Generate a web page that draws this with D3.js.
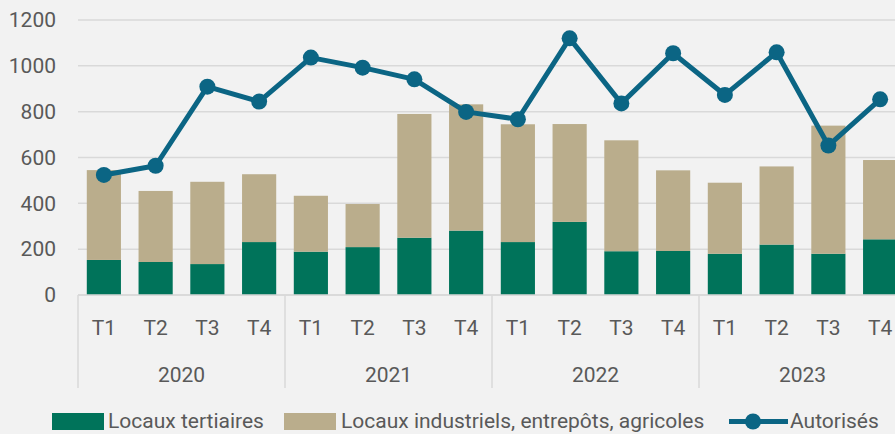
<!DOCTYPE html>
<html>
<head>
<meta charset="utf-8">
<script src="https://cdn.jsdelivr.net/npm/d3@7"></script>
<style>
  html, body { margin: 0; padding: 0; background: #f2f2f2; }
  svg { display: block; font-family: Roboto, "Noto Sans", sans-serif; }
</style>
</head>
<body>
<div id="chart"></div>
<script>
// Data
var years      = ["2020", "2021", "2022", "2023"];
var quarters   = ["T1", "T2", "T3", "T4"];
var tertiaires = [153, 144, 135, 231, 189, 209, 250, 281, 231, 319, 191, 192, 180, 220, 180, 243];
var industriels = [392, 310, 359, 296, 244, 188, 540, 551, 514, 427, 484, 352, 310, 341, 559, 346];
var autorises  = [524, 564, 909, 844, 1036, 992, 941, 799, 767, 1120, 836, 1055, 873, 1059, 652, 854];
var yTicks     = [0, 200, 400, 600, 800, 1000, 1200];

// Colors
var colors = { tertiaires: "#00735a", industriels: "#baad8c", line: "#0b6584", grid: "#d9d9d9", text: "#595959" };

var width = 895, height = 434;
var margin = { left: 78, top: 20, bottom: 295 };

// Build rows
var rows = [];
years.forEach(function(y, yi) {
  quarters.forEach(function(q, qi) {
    var i = yi * 4 + qi;
    rows.push({ id: y + "-" + q, year: y, quarter: q, tertiaires: tertiaires[i], industriels: industriels[i], autorises: autorises[i] });
  });
});

var svg = d3.select("#chart").append("svg").attr("width", width).attr("height", height);
svg.append("rect").attr("width", width).attr("height", height).attr("fill", "#f2f2f2");

// Scales
var x = d3.scaleBand().domain(rows.map(function(d) { return d.id; }))
  .range([margin.left, margin.left + 16 * 51.75]).paddingInner(0.34).paddingOuter(0.17);
var y = d3.scaleLinear().domain([0, 1200]).range([margin.bottom, margin.top]);

// Gridlines
svg.append("g").selectAll("line").data(yTicks).enter().append("line")
  .attr("x1", margin.left).attr("x2", width)
  .attr("y1", function(d) { return y(d); }).attr("y2", function(d) { return y(d); })
  .attr("stroke", colors.grid).attr("stroke-width", 1.5);

// Y axis labels
var yAxis = svg.append("g").attr("transform", "translate(56,0)")
  .call(d3.axisLeft(y).tickValues(yTicks).tickFormat(d3.format("d")).tickSize(0).tickPadding(0));
yAxis.select(".domain").remove();
yAxis.selectAll("text").attr("font-size", 21).attr("fill", colors.text).attr("font-family", "Roboto");

// Stacked bars
var stack = d3.stack().keys(["tertiaires", "industriels"]);
var series = stack(rows);
svg.append("g").selectAll("g").data(series).enter().append("g")
  .attr("fill", function(s) { return colors[s.key]; })
  .selectAll("rect").data(function(s) { return s; }).enter().append("rect")
  .attr("x", function(d) { return x(d.data.id); })
  .attr("width", x.bandwidth())
  .attr("y", function(d) { return y(d[1]); })
  .attr("height", function(d) { return y(d[0]) - y(d[1]); });

// Category axis: baseline and group separators
var step = x.step();
svg.append("line").attr("x1", margin.left).attr("x2", width)
  .attr("y1", margin.bottom).attr("y2", margin.bottom)
  .attr("stroke", colors.grid).attr("stroke-width", 1.5);
svg.append("g").selectAll("line").data(d3.range(years.length + 1)).enter().append("line")
  .attr("x1", function(i) { return margin.left + i * 4 * step; })
  .attr("x2", function(i) { return margin.left + i * 4 * step; })
  .attr("y1", margin.bottom).attr("y2", 388)
  .attr("stroke", colors.grid).attr("stroke-width", 1.5);

// Quarter labels
svg.append("g").selectAll("text").data(rows).enter().append("text")
  .attr("x", function(d) { return x(d.id) + x.bandwidth() / 2; })
  .attr("y", 335)
  .attr("text-anchor", "middle").attr("font-size", 21).attr("fill", colors.text)
  .text(function(d) { return d.quarter; });

// Year labels
svg.append("g").selectAll("text").data(years).enter().append("text")
  .attr("x", function(d, i) { return margin.left + (i * 4 + 2) * step; })
  .attr("y", 382)
  .attr("text-anchor", "middle").attr("font-size", 21).attr("fill", colors.text)
  .text(function(d) { return d; });

// Line
var line = d3.line()
  .x(function(d) { return x(d.id) + x.bandwidth() / 2; })
  .y(function(d) { return y(d.autorises); });
svg.append("path").datum(rows).attr("d", line)
  .attr("fill", "none").attr("stroke", colors.line).attr("stroke-width", 5).attr("stroke-linejoin", "round");
svg.append("g").selectAll("circle").data(rows).enter().append("circle")
  .attr("cx", function(d) { return x(d.id) + x.bandwidth() / 2; })
  .attr("cy", function(d) { return y(d.autorises); })
  .attr("r", 8).attr("fill", colors.line);

// Legend
var legend = svg.append("g");
legend.append("rect").attr("x", 52).attr("y", 413).attr("width", 52).attr("height", 17).attr("fill", colors.tertiaires);
legend.append("text").attr("x", 108).attr("y", 428).attr("font-size", 21).attr("fill", colors.text).text("Locaux tertiaires");
legend.append("rect").attr("x", 284).attr("y", 413).attr("width", 52).attr("height", 17).attr("fill", colors.industriels);
legend.append("text").attr("x", 341).attr("y", 428).attr("font-size", 21).attr("fill", colors.text).text("Locaux industriels, entrepôts, agricoles");
legend.append("line").attr("x1", 729).attr("x2", 788).attr("y1", 421.5).attr("y2", 421.5)
  .attr("stroke", colors.line).attr("stroke-width", 5);
legend.append("circle").attr("cx", 753).attr("cy", 421.5).attr("r", 8).attr("fill", colors.line);
legend.append("text").attr("x", 790).attr("y", 428).attr("font-size", 21).attr("fill", colors.text).text("Autorisés");
</script>
</body>
</html>
